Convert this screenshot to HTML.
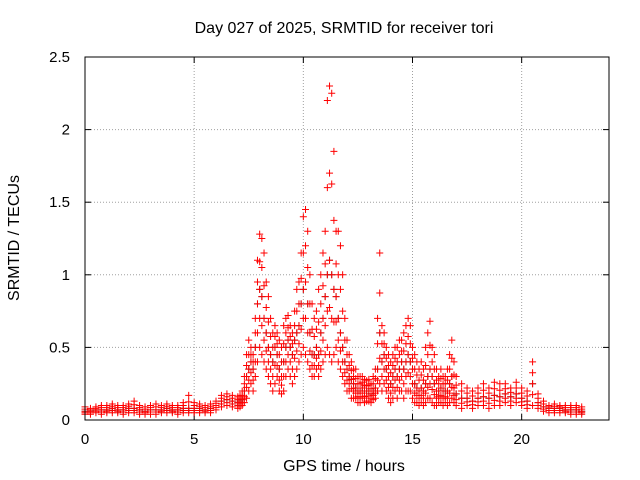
<!DOCTYPE html>
<html><head><meta charset="utf-8">
<style>
body{margin:0;background:#fff;}
svg{display:block;font-family:"Liberation Sans",sans-serif;}
</style></head>
<body>
<svg id="chart" width="640" height="480">
<text x="344" y="33" font-size="16" text-anchor="middle">Day 027 of 2025, SRMTID for receiver tori</text>
<text x="344" y="471" font-size="16" text-anchor="middle">GPS time / hours</text>
<text x="0" y="0" font-size="16" text-anchor="middle" transform="translate(19,238) rotate(-90)">SRMTID / TECUs</text>
<g id="grid"></g>
<g id="ticks"></g>
<g id="marks"></g>
<rect x="85" y="57" width="524" height="363" fill="none" stroke="#000" stroke-width="1"/>
</svg>
<script>
const xTicks=[0,5,10,15,20];
const yTicks=[0,0.5,1,1.5,2,2.5];
const yTickLabels=["0","0.5","1","1.5","2","2.5"];
const times=[0,0.25,0.5,0.75,1,1.25,1.5,1.75,2,2.25,2.5,2.75,3,3.25,3.5,3.75,4,4.25,4.5,4.75,5,5.25,5.5,5.75,6,6.25,6.5,6.75,
7.0,7.1,7.2,7.3,7.4,7.5,7.6,7.7,7.8,7.9,8.0,8.1,8.2,8.3,8.4,8.5,8.6,8.7,8.8,8.9,9.0,9.1,9.2,9.3,9.4,9.5,9.6,9.7,9.8,9.9,
10.0,10.1,10.2,10.3,10.4,10.5,10.6,10.7,10.8,10.9,11.0,11.1,11.2,11.3,11.4,11.5,11.6,11.7,11.8,11.9,
12.0,12.1,12.2,12.3,12.4,12.5,12.6,12.7,12.8,12.9,13.0,13.1,13.2,13.3,13.4,13.5,13.6,13.7,13.8,13.9,
14.0,14.1,14.2,14.3,14.4,14.5,14.6,14.7,14.8,14.9,15.0,15.1,15.2,15.3,15.4,15.5,15.6,15.7,15.8,15.9,
16.0,16.1,16.2,16.3,16.4,16.5,16.6,16.7,16.8,16.9,17.0,
17.25,17.5,17.75,18,18.25,18.5,18.75,19,19.25,19.5,19.75,20,20.25,20.5,20.75,21,21.25,21.5,21.75,22,22.25,22.5,22.75];
const lows=[.04,.04,.05,.04,.05,.05,.05,.04,.05,.05,.04,.04,.04,.04,.05,.05,.05,.04,.05,.05,.05,.05,.05,.05,.07,.09,.1,.09,
.08,.09,.1,.12,.15,.2,.25,.2,.3,.4,.5,.45,.4,.35,.3,.25,.2,.25,.3,.2,.18,.2,.3,.35,.3,.25,.3,.35,.4,.45,
.5,.45,.4,.35,.3,.3,.35,.3,.35,.4,.45,.5,.45,.4,.45,.5,.4,.35,.3,.25,
.2,.2,.15,.15,.15,.12,.12,.15,.12,.13,.13,.12,.14,.15,.2,.25,.2,.25,.2,.15,
.12,.15,.2,.15,.2,.2,.15,.2,.2,.2,.15,.12,.12,.1,.12,.1,.12,.15,.15,.12,
.1,.1,.12,.12,.1,.12,.1,.12,.15,.12,.1,
.08,.1,.08,.1,.1,.08,.1,.1,.12,.1,.12,.1,.08,.1,.08,.06,.05,.05,.05,.05,.04,.04,.04];
const mids=[.06,.06,.07,.07,.07,.08,.07,.07,.08,.08,.07,.06,.07,.07,.07,.08,.07,.07,.08,.08,.08,.08,.07,.08,.1,.13,.14,.13,
.12,.13,.14,.2,.3,.35,.4,.35,.5,.8,.9,.85,.7,.6,.5,.45,.4,.5,.45,.35,.3,.4,.5,.55,.5,.45,.55,.6,.65,.8,
.9,.95,.8,.6,.45,.45,.5,.45,.6,.7,.85,1.0,1.1,1.0,.9,.85,.7,.6,.5,.4,
.35,.3,.28,.25,.22,.2,.2,.22,.2,.2,.2,.18,.2,.22,.35,.6,.4,.45,.35,.3,
.25,.3,.35,.3,.35,.4,.35,.4,.45,.4,.35,.25,.22,.2,.22,.2,.25,.3,.35,.3,
.25,.2,.2,.22,.2,.2,.2,.25,.3,.22,.18,
.15,.15,.13,.15,.16,.15,.17,.16,.18,.16,.18,.15,.13,.25,.12,.09,.08,.08,.08,.07,.07,.07,.06];
const highs=[.09,.08,.09,.1,.1,.11,.1,.1,.11,.13,.1,.09,.1,.11,.1,.11,.1,.1,.12,.17,.12,.11,.1,.11,.13,.17,.18,.17,
.16,.17,.2,.3,.45,.55,.5,.45,.7,1.1,1.28,1.25,1.15,.95,.85,.7,.6,.65,.6,.55,.5,.65,.7,.72,.65,.6,.75,.9,.95,1.15,
1.4,1.45,1.3,1.0,.8,.7,.75,.9,1.0,1.15,1.3,2.2,2.3,2.25,1.85,1.3,1.3,1.2,1.0,.7,
.55,.45,.4,.35,.35,.3,.3,.3,.28,.27,.28,.25,.3,.35,.7,1.15,.65,.6,.5,.45,
.4,.45,.5,.5,.55,.55,.6,.65,.7,.65,.5,.45,.4,.35,.4,.35,.5,.6,.68,.5,
.45,.35,.3,.35,.3,.3,.35,.45,.55,.4,.3,
.25,.22,.2,.22,.25,.22,.26,.25,.25,.22,.26,.22,.2,.4,.18,.13,.1,.11,.1,.1,.1,.1,.09];

const X0=85,X1=609,Y0=420,Y1=57,XMAX=24,YMAX=2.5;
const sx=v=>X0+(X1-X0)*v/XMAX;
const sy=v=>Y0-(Y0-Y1)*v/YMAX;
const NS="http://www.w3.org/2000/svg";
const grid=document.getElementById('grid'),ticks=document.getElementById('ticks'),marks=document.getElementById('marks');
function mk(tag,attrs,parent){const e=document.createElementNS(NS,tag);for(const k in attrs)e.setAttribute(k,attrs[k]);parent.appendChild(e);return e;}
xTicks.forEach(t=>{
  const x=sx(t);
  if(t>0){const g=mk('line',{x1:x,x2:x,y1:Y0,y2:Y1,stroke:'#a0a0a0','stroke-dasharray':'1,2'},grid);
  
  }
  mk('line',{x1:x,x2:x,y1:Y0,y2:Y0-6,stroke:'#000'},ticks);
  mk('line',{x1:x,x2:x,y1:Y1,y2:Y1+6,stroke:'#000'},ticks);
  const l=mk('text',{x:x,y:Y0+24,'font-size':15,'text-anchor':'middle'},ticks);
  l.textContent=t;
  
  
});
yTicks.forEach((t,i)=>{
  const y=sy(t);
  if(t>0&&t<YMAX){const g=mk('line',{x1:X0,x2:X1,y1:y,y2:y,stroke:'#a0a0a0','stroke-dasharray':'1,2'},grid);
  
  }
  mk('line',{x1:X0,x2:X0+6,y1:y,y2:y,stroke:'#000'},ticks);
  mk('line',{x1:X1,x2:X1-6,y1:y,y2:y,stroke:'#000'},ticks);
  const l=mk('text',{x:X0-15,y:y+5,'font-size':15,'text-anchor':'end'},ticks);
  l.textContent=yTickLabels[i];
  
  
});
function plus(t,v,col){
  const x=sx(t),y=sy(v);
  const p=mk('path',{d:`M${x-3.5},${y}h7M${x},${y-3.5}v7`,stroke:col,'stroke-width':1,fill:'none'},marks);
  
  
}
times.forEach((t,i)=>{
  const lo=lows[i],mi=mids[i],hi=highs[i];
  plus(t,lo,'red');
  plus(t,(lo+mi)/2,'red');
  plus(t,mi,'#404040');
  plus(t,mi,'red');
  plus(t,(mi+hi)/2,'red');
  plus(t,hi,'red');
});
</script>
</body></html>
